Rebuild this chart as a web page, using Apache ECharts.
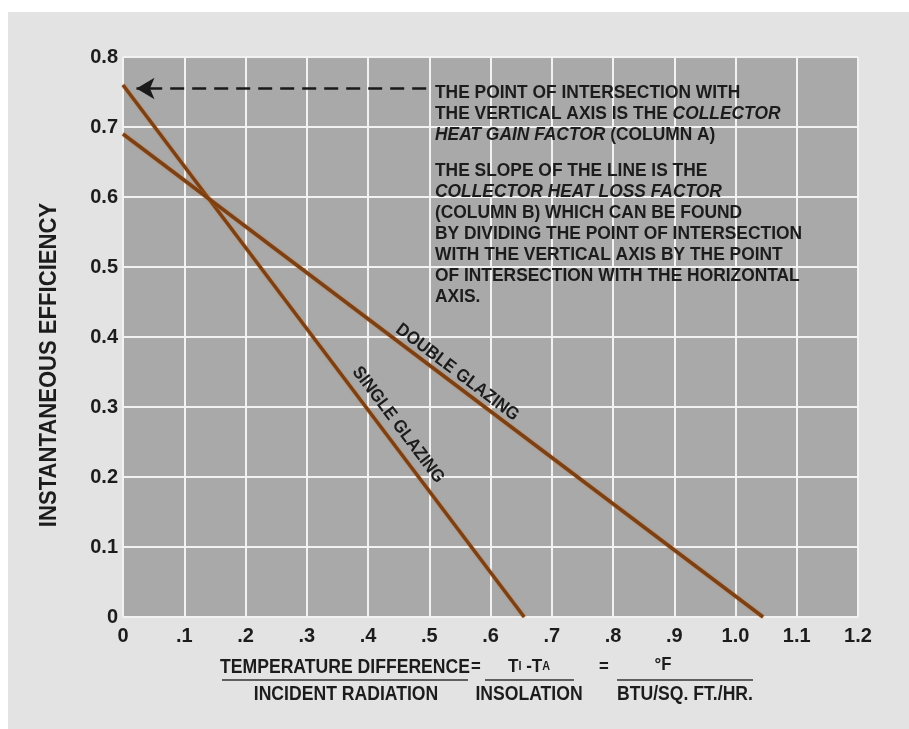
<!DOCTYPE html>
<html>
<head>
<meta charset="utf-8">
<script src="https://cdn.jsdelivr.net/npm/echarts@6/dist/echarts.min.js"></script>
<style>
html,body{margin:0;padding:0;background:#ffffff;}
#c{width:909px;height:729px;}
</style>
</head>
<body>
<div id="c"></div>
<script>
// ---- data ----
const xTickLabels = ['0', '.1', '.2', '.3', '.4', '.5', '.6', '.7', '.8', '.9', '1.0', '1.1', '1.2'];
const yTickLabels = ['0', '0.1', '0.2', '0.3', '0.4', '0.5', '0.6', '0.7', '0.8'];
const singleGlazing = [[0, 0.76], [0.655, 0]];
const doubleGlazing = [[0, 0.69], [1.045, 0]];
const arrowFrom = [0.495, 0.755];
const arrowTo = [0.022, 0.755];

const FONT = '"Liberation Sans", Arial, sans-serif';
const LINE_COLOR = '#7c4015';
const TEXT_COLOR = '#1c1c1c';

const chart = echarts.init(document.getElementById('c'), null, {renderer: 'canvas'});

const option = {
  backgroundColor: '#ffffff',
  animation: false,
  grid: {
    left: 123, top: 57, width: 735, height: 560,
    show: true, backgroundColor: '#a9a9a9', borderWidth: 0
  },
  xAxis: {
    type: 'value', min: 0, max: 1.2, interval: 0.1,
    axisLine: {show: false}, axisTick: {show: false},
    splitLine: {show: true, lineStyle: {color: '#f2f2f2', width: 2}},
    axisLabel: {
      margin: 9, color: TEXT_COLOR, fontFamily: FONT, fontSize: 20, fontWeight: 'bold',
      formatter: (v) => xTickLabels[Math.round(v * 10)]
    }
  },
  yAxis: {
    type: 'value', min: 0, max: 0.8, interval: 0.1,
    axisLine: {show: false}, axisTick: {show: false},
    splitLine: {show: true, lineStyle: {color: '#f2f2f2', width: 2}},
    axisLabel: {
      margin: 5, color: TEXT_COLOR, fontFamily: FONT, fontSize: 20, fontWeight: 'bold',
      formatter: (v) => yTickLabels[Math.round(v * 10)]
    }
  },
  series: [
    {
      name: 'SINGLE GLAZING', type: 'line', data: singleGlazing, symbol: 'none',
      lineStyle: {color: LINE_COLOR, width: 3.5, shadowColor: 'rgba(205,115,45,0.75)', shadowBlur: 2},
      z: 3,
      markLine: {
        silent: true, symbol: ['none', 'arrow'], symbolSize: [16, 18],
        label: {show: false},
        lineStyle: {color: '#1a1a1a', width: 2.5, type: [14, 8]},
        itemStyle: {color: '#1a1a1a'},
        data: [[{coord: arrowFrom}, {coord: arrowTo}]]
      }
    },
    {
      name: 'DOUBLE GLAZING', type: 'line', data: doubleGlazing, symbol: 'none',
      lineStyle: {color: LINE_COLOR, width: 3.5, shadowColor: 'rgba(205,115,45,0.75)', shadowBlur: 2},
      z: 3
    }
  ]
};
chart.setOption(option);

function lineLabel(data, text, t, off) {
  const p0 = chart.convertToPixel({gridIndex: 0}, data[0]);
  const p1 = chart.convertToPixel({gridIndex: 0}, data[1]);
  const dx = p1[0] - p0[0], dy = p1[1] - p0[1];
  const L = Math.hypot(dx, dy);
  const ux = dx / L, uy = dy / L;
  const nx = uy, ny = -ux; // upper-right normal
  return {
    type: 'text',
    x: p0[0] + dx * t + nx * off,
    y: p0[1] + dy * t + ny * off,
    rotation: -Math.atan2(dy, dx),
    scaleX: 0.92,
    z: 10,
    style: {
      text: text, fill: TEXT_COLOR, font: 'bold 18px ' + FONT,
      align: 'center', verticalAlign: 'middle'
    }
  };
}

const annotRich = {
  n: {fontFamily: FONT, fontSize: 19, fontWeight: 'bold', fill: TEXT_COLOR, color: TEXT_COLOR, lineHeight: 21},
  i: {fontFamily: FONT, fontSize: 19, fontWeight: 'bold', fontStyle: 'italic', fill: TEXT_COLOR, color: TEXT_COLOR, lineHeight: 21},
  g: {fontSize: 10, lineHeight: 15}
};

function ftext(x, y, text, size) {
  return {type: 'text', x: x, y: y, scaleX: 0.88, z: 10,
    style: {text: text, font: 'bold ' + (size || 19) + 'px ' + FONT, fill: TEXT_COLOR, align: 'center', verticalAlign: 'middle'}};
}

const graphics = [
  {type: 'rect', shape: {x: 8, y: 12, width: 901, height: 717}, style: {fill: '#e3e3e3'}, z: -10, silent: true},
  // y-axis title
  {type: 'text', x: 50, y: 365, rotation: Math.PI / 2, scaleX: 0.96, z: 10,
    style: {text: 'INSTANTANEOUS EFFICIENCY', font: 'bold 23px ' + FONT, fill: TEXT_COLOR, align: 'center', verticalAlign: 'middle'}},
  {
    type: 'text', x: 435, y: 82, z: 10, scaleX: 0.915,
    style: {
      rich: annotRich,
      text: [
        '{n|THE POINT OF INTERSECTION WITH}',
        '{n|THE VERTICAL AXIS IS THE }{i|COLLECTOR}',
        '{i|HEAT GAIN FACTOR}{n| (COLUMN A)}',
        '{g| }',
        '{n|THE SLOPE OF THE LINE IS THE}',
        '{i|COLLECTOR HEAT LOSS FACTOR}',
        '{n|(COLUMN B) WHICH CAN BE FOUND}',
        '{n|BY DIVIDING THE POINT OF INTERSECTION}',
        '{n|WITH THE VERTICAL AXIS BY THE POINT}',
        '{n|OF INTERSECTION WITH THE HORIZONTAL}',
        '{n|AXIS.}'
      ].join('\n')
    }
  },
  lineLabel(singleGlazing, 'SINGLE GLAZING', 0.656, 15),
  lineLabel(doubleGlazing, 'DOUBLE GLAZING', 0.512, 11),
  // formula
  ftext(345, 667, 'TEMPERATURE DIFFERENCE', 20),
  {type: 'line', shape: {x1: 222, y1: 680, x2: 468, y2: 680}, style: {stroke: '#333', lineWidth: 1.5}},
  ftext(346, 694, 'INCIDENT RADIATION', 20),
  ftext(476, 667, '='),
  {type: 'text', x: 529, y: 667, scaleX: 0.9, z: 10, style: {
    rich: {
      a: {fontFamily: FONT, fontSize: 19, fontWeight: 'bold', fill: TEXT_COLOR, color: TEXT_COLOR},
      s: {fontFamily: FONT, fontSize: 12, fontWeight: 'bold', fill: TEXT_COLOR, color: TEXT_COLOR}
    },
    text: '{a|T}{s|I}{a| -T}{s|A}', align: 'center', verticalAlign: 'middle'}},
  {type: 'line', shape: {x1: 485, y1: 680, x2: 574, y2: 680}, style: {stroke: '#333', lineWidth: 1.5}},
  ftext(529, 694, 'INSOLATION', 20),
  ftext(604, 667, '='),
  ftext(663, 665, '°F'),
  {type: 'line', shape: {x1: 617, y1: 680, x2: 753, y2: 680}, style: {stroke: '#333', lineWidth: 1.5}},
  ftext(685, 694, 'BTU/SQ. FT./HR.', 20)
];
chart.setOption({graphic: graphics});
</script>
</body>
</html>
